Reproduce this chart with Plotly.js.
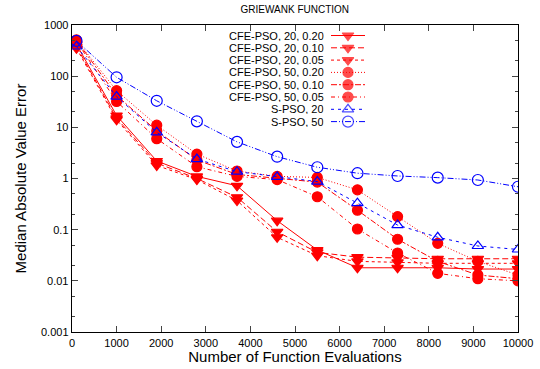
<!DOCTYPE html>
<html>
<head>
<meta charset="utf-8">
<script src="https://cdn.plot.ly/plotly-3.0.1.min.js"></script>
<style>html,body{margin:0;padding:0;background:#fff}#chart{width:540px;height:369px}</style>
</head>
<body>
<div id="chart"></div>
<script>
// ---- data ----
const evaluations = [100, 1000, 1900, 2800, 3700, 4600, 5500, 6400, 7300, 8200, 9100, 10000];
const seriesNames = ["CFE-PSO, 20, 0.20", "CFE-PSO, 20, 0.10", "CFE-PSO, 20, 0.05",
                     "CFE-PSO, 50, 0.20", "CFE-PSO, 50, 0.10", "CFE-PSO, 50, 0.05",
                     "S-PSO, 20", "S-PSO, 50"];
const cfe20_020 = [420, 17, 2.2, 1.1, 0.72, 0.15, 0.040, 0.018, 0.018, 0.018, 0.017, 0.017];
const cfe20_010 = [380, 15, 2.0, 1.0, 0.43, 0.091, 0.036, 0.029, 0.028, 0.027, 0.027, 0.027];
const cfe20_005 = [350, 14, 1.8, 0.95, 0.37, 0.071, 0.031, 0.024, 0.023, 0.022, 0.022, 0.022];
const cfe50_020 = [510, 52, 11, 3.0, 1.4, 1.1, 1.05, 0.6, 0.18, 0.054, 0.024, 0.013];
const cfe50_010 = [500, 42, 8.5, 2.3, 1.2, 1.0, 0.85, 0.24, 0.065, 0.024, 0.013, 0.011];
const cfe50_005 = [480, 32, 6.0, 1.7, 1.1, 0.95, 0.44, 0.103, 0.035, 0.014, 0.011, 0.010];
const spso20 = [380, 40, 8.0, 2.4, 1.36, 1.08, 0.87, 0.33, 0.123, 0.071, 0.048, 0.041];
const spso50 = [490, 95, 33, 13.1, 5.2, 2.67, 1.66, 1.27, 1.12, 1.04, 0.935, 0.69];
const yTickVals = [0.001, 0.01, 0.1, 1, 10, 100, 1000];
const yTickText = ["0.001", "0.01", "0.1", "1", "10", "100", "1000"];
const xTickVals = [0, 1000, 2000, 3000, 4000, 5000, 6000, 7000, 8000, 9000, 10000];
const xTickText = ["0", "1000", "2000", "3000", "4000", "5000", "6000", "7000", "8000", "9000", "10000"];

// ---- styles ----
const RED = "#ff0000", BLUE = "#0000ff";
const styles = [
  {color: RED, dash: "solid", symbol: "triangle-down", size: 10},
  {color: RED, dash: "6px,3px", symbol: "triangle-down", size: 10},
  {color: RED, dash: "3px,3px", symbol: "triangle-down", size: 10},
  {color: RED, dash: "1px,2px", symbol: "circle", size: 10},
  {color: RED, dash: "6px,2px,2px,2px", symbol: "circle", size: 10},
  {color: RED, dash: "4px,3px,1px,3px", symbol: "circle", size: 10},
  {color: BLUE, dash: "3px,4px", symbol: "triangle-up-open", size: 10},
  {color: BLUE, dash: "6px,2px,1px,2px,1px,2px", symbol: "circle-open", size: 11}
];
const allSeries = [cfe20_020, cfe20_010, cfe20_005, cfe50_020, cfe50_010, cfe50_005, spso20, spso50];

const traces = allSeries.map((vals, i) => ({
  x: evaluations, y: vals, type: "scatter", mode: "lines+markers", name: seriesNames[i],
  showlegend: false,
  line: {color: styles[i].color, dash: styles[i].dash, width: 1},
  marker: {symbol: styles[i].symbol, size: styles[i].size, color: styles[i].color,
           line: {color: styles[i].color, width: 1.2}}
}));

// ---- custom gnuplot-style key (text left, sample right) on a pixel overlay axis ----
const keyTop = 35.5, keyStep = 12.3, sampleX = [331, 348, 365], textRight = 325;
const annotations = [];
seriesNames.forEach((nm, i) => {
  const yy = keyTop + i * keyStep;
  traces.push({
    x: sampleX, y: [yy, yy, yy], xaxis: "x2", yaxis: "y2", type: "scatter",
    mode: "lines+markers", showlegend: false, hoverinfo: "skip",
    line: {color: styles[i].color, dash: styles[i].dash, width: 1},
    marker: {symbol: styles[i].symbol, size: [0, styles[i].size, 0], color: styles[i].color,
             line: {color: styles[i].color, width: 1.2}}
  });
  annotations.push({xref: "x2", yref: "y2", x: textRight, y: yy, text: nm, showarrow: false,
    xanchor: "right", yanchor: "middle", height: 10, borderpad: 0,
    font: {size: 11, color: "#000"}});
});

const layout = {
  width: 540, height: 369,
  margin: {l: 72, r: 22, t: 25, b: 37},
  paper_bgcolor: "#fff", plot_bgcolor: "#fff",
  font: {family: "Liberation Sans, Arial, sans-serif", color: "#000", size: 11},
  title: {text: "GRIEWANK FUNCTION", font: {size: 10}, x: 0.546, xanchor: "center", y: 0.975, yanchor: "middle"},
  showlegend: false,
  xaxis: {
    range: [0, 10000], tickvals: xTickVals, ticktext: xTickText, ticks: "inside", ticklen: 6, tickwidth: 1,
    showline: true, mirror: "allticks", linecolor: "#000", linewidth: 1.3,
    showgrid: false, zeroline: false, tickfont: {size: 11},
    title: {text: "Number of Function Evaluations", font: {size: 15}, standoff: 4}
  },
  yaxis: {
    type: "log", range: [-3, 3], tickvals: yTickVals, ticktext: yTickText,
    ticks: "inside", ticklen: 6, tickwidth: 1,
    showline: true, mirror: "allticks", linecolor: "#000", linewidth: 1.3,
    showgrid: false, zeroline: false, tickfont: {size: 11},
    minor: {ticks: "inside", ticklen: 3, tickvals: [0.002,0.005,0.02,0.05,0.2,0.5,2,5,20,50,200,500], showgrid: false},
    title: {text: "Median Absolute Value Error", font: {size: 15}, standoff: 10}
  },
  xaxis2: {overlaying: "x", range: [72, 518], visible: false, fixedrange: true},
  yaxis2: {overlaying: "y", range: [332, 25], visible: false, fixedrange: true},
  annotations: annotations
};

Plotly.newPlot("chart", traces, layout, {displayModeBar: false, staticPlot: true});
</script>
</body>
</html>
